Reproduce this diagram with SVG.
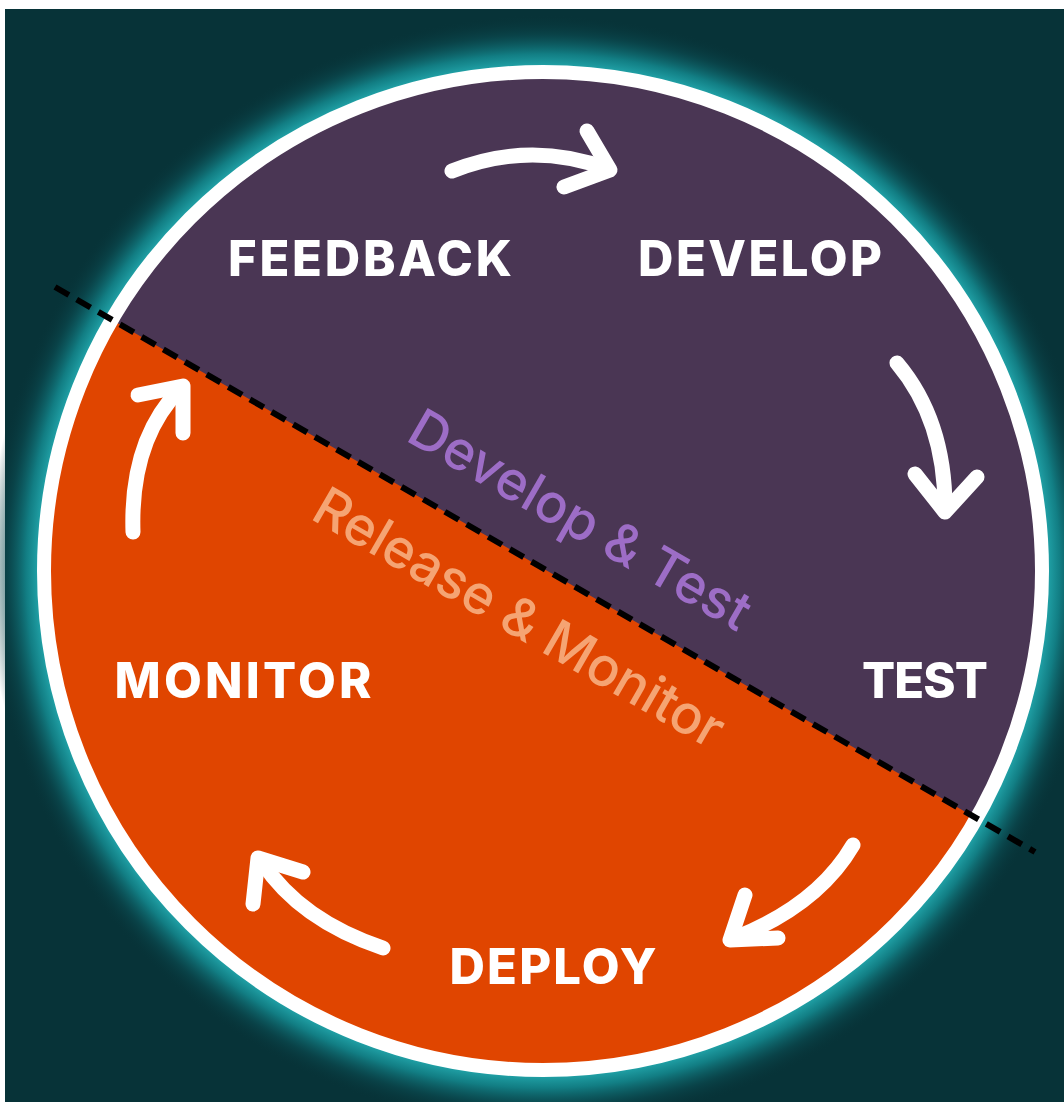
<svg xmlns="http://www.w3.org/2000/svg" width="1064" height="1102" viewBox="0 0 1064 1102">
  <defs>
    <radialGradient id="glow" gradientUnits="userSpaceOnUse" cx="543" cy="571" r="556">
      <stop offset="0.895" stop-color="#2ab9be" stop-opacity="1"/>
      <stop offset="0.93" stop-color="#13868c" stop-opacity="0.9"/>
      <stop offset="0.965" stop-color="#0b4f55" stop-opacity="0.55"/>
      <stop offset="1" stop-color="#083338" stop-opacity="0"/>
    </radialGradient>
    <clipPath id="disc">
      <circle cx="543" cy="571" r="500"/>
    </clipPath>
    <style>
      .lbl { font-family: Inter, "Open Sans", "Liberation Sans", sans-serif; font-weight: 800; font-size: 49px; fill: #ffffff; text-anchor: middle; }
      .phase { font-family: Inter, "Open Sans", "Liberation Sans", sans-serif; font-weight: 500; font-size: 54px; text-anchor: middle; }
      .arrow { fill: none; stroke: #ffffff; stroke-width: 15; stroke-linecap: round; stroke-linejoin: round; }
    </style>
  </defs>

  <!-- background -->
  <rect x="0" y="0" width="1064" height="1102" fill="#ffffff"/>
  <rect x="5" y="9" width="1059" height="1093" fill="#073338"/>

  <!-- glow and disc -->
  <circle cx="543" cy="571" r="556" fill="url(#glow)"/>
  <g clip-path="url(#disc)">
    <rect x="0" y="0" width="1064" height="1102" fill="#e04500"/>
    <polygon points="0,255.3 1064,868.7 1064,0 0,0" fill="#4a3654"/>
  </g>
  <circle cx="543" cy="571" r="499" fill="none" stroke="#ffffff" stroke-width="14"/>

  <!-- divider -->
  <line x1="55" y1="287" x2="1035" y2="852" stroke="#000000" stroke-width="6" stroke-dasharray="16 9"/>

  <!-- phase labels -->
  <text class="phase" fill="#9d6dc6" x="571" y="536" transform="rotate(30 571 536)" textLength="385" lengthAdjust="spacing">Develop &amp; Test</text>
  <text class="phase" fill="#f5a473" x="510" y="634" transform="rotate(30 510 634)" textLength="464" lengthAdjust="spacing">Release &amp; Monitor</text>

  <!-- nodes -->
  <g id="feedback"><text class="lbl" x="370" y="276" textLength="284" lengthAdjust="spacing">FEEDBACK</text></g>
  <g id="develop"><text class="lbl" x="760" y="276" textLength="244" lengthAdjust="spacing">DEVELOP</text></g>
  <g id="test"><text class="lbl" x="925" y="698" textLength="126" lengthAdjust="spacing">TEST</text></g>
  <g id="deploy"><text class="lbl" x="553" y="984" textLength="207" lengthAdjust="spacing">DEPLOY</text></g>
  <g id="monitor"><text class="lbl" x="243" y="698" textLength="257" lengthAdjust="spacing">MONITOR</text></g>

  <!-- connectors -->
  <g id="connectors">
    <path class="arrow" d="M452 171 Q530 140 608 169"/>
    <path class="arrow" d="M587 131 L610 170 L564 187"/>

    <path class="arrow" d="M897 363 Q945 420 945 508"/>
    <path class="arrow" d="M915 474 L945 512 L977 477"/>

    <path class="arrow" d="M853 845 Q818 905 735 938"/>
    <path class="arrow" d="M745 895 L730 940 L778 938"/>

    <path class="arrow" d="M383 948 Q300 920 262 862"/>
    <path class="arrow" d="M303 872 L258 858 L253 904"/>

    <path class="arrow" d="M133 532 Q130 440 180 389"/>
    <path class="arrow" d="M138 395 L183 386 L183 433"/>
  </g>
</svg>
